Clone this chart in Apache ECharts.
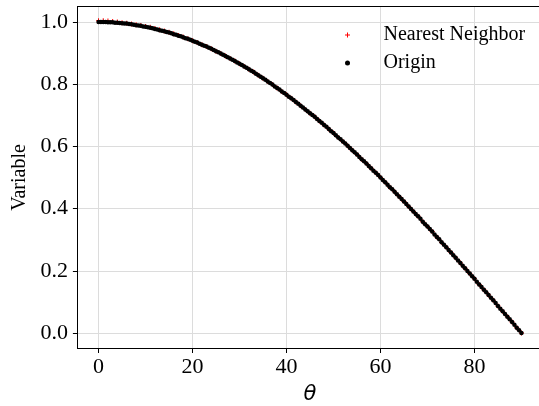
<!DOCTYPE html>
<html>
<head>
<meta charset="utf-8">
<script src="https://cdn.jsdelivr.net/npm/echarts@6/dist/echarts.min.js"></script>
<style>html,body{margin:0;padding:0;background:#fff}#c{width:539px;height:406px}</style>
</head>
<body>
<div id="c"></div>
<script>
var thetaOrigin = [0,0.5,1,1.5,2,2.5,3,3.5,4,4.5,5,5.5,6,6.5,7,7.5,8,8.5,9,9.5,10,10.5,11,11.5,12,12.5,13,13.5,14,14.5,15,15.5,16,16.5,17,17.5,18,18.5,19,19.5,20,20.5,21,21.5,22,22.5,23,23.5,24,24.5,25,25.5,26,26.5,27,27.5,28,28.5,29,29.5,30,30.5,31,31.5,32,32.5,33,33.5,34,34.5,35,35.5,36,36.5,37,37.5,38,38.5,39,39.5,40,40.5,41,41.5,42,42.5,43,43.5,44,44.5,45,45.5,46,46.5,47,47.5,48,48.5,49,49.5,50,50.5,51,51.5,52,52.5,53,53.5,54,54.5,55,55.5,56,56.5,57,57.5,58,58.5,59,59.5,60,60.5,61,61.5,62,62.5,63,63.5,64,64.5,65,65.5,66,66.5,67,67.5,68,68.5,69,69.5,70,70.5,71,71.5,72,72.5,73,73.5,74,74.5,75,75.5,76,76.5,77,77.5,78,78.5,79,79.5,80,80.5,81,81.5,82,82.5,83,83.5,84,84.5,85,85.5,86,86.5,87,87.5,88,88.5,89,89.5,90];
var originValues = [1.000,1.000,1.000,1.000,0.999,0.999,0.999,0.998,0.998,0.997,0.996,0.995,0.995,0.994,0.993,0.991,0.990,0.989,0.988,0.986,0.985,0.983,0.982,0.980,0.978,0.976,0.974,0.972,0.970,0.968,0.966,0.964,0.961,0.959,0.956,0.954,0.951,0.948,0.946,0.943,0.940,0.937,0.934,0.930,0.927,0.924,0.921,0.917,0.914,0.910,0.906,0.903,0.899,0.895,0.891,0.887,0.883,0.879,0.875,0.870,0.866,0.862,0.857,0.853,0.848,0.843,0.839,0.834,0.829,0.824,0.819,0.814,0.809,0.804,0.799,0.793,0.788,0.783,0.777,0.772,0.766,0.760,0.755,0.749,0.743,0.737,0.731,0.725,0.719,0.713,0.707,0.701,0.695,0.688,0.682,0.676,0.669,0.663,0.656,0.649,0.643,0.636,0.629,0.623,0.616,0.609,0.602,0.595,0.588,0.581,0.574,0.566,0.559,0.552,0.545,0.537,0.530,0.522,0.515,0.508,0.500,0.492,0.485,0.477,0.469,0.462,0.454,0.446,0.438,0.431,0.423,0.415,0.407,0.399,0.391,0.383,0.375,0.367,0.358,0.350,0.342,0.334,0.326,0.317,0.309,0.301,0.292,0.284,0.276,0.267,0.259,0.250,0.242,0.233,0.225,0.216,0.208,0.199,0.191,0.182,0.174,0.165,0.156,0.148,0.139,0.131,0.122,0.113,0.105,0.096,0.087,0.078,0.070,0.061,0.052,0.044,0.035,0.026,0.017,0.009,0.000];
var thetaNN = [0,1,2,3,4,5,6,7,8,9,10,11,12,13,14,15,16,17,18,19,20,21,22,23,24,25,26,27,28,29,30,31,32,33,34,35,36,37,38,39,40,41,42,43,44,45,46,47,48,49,50,51,52,53,54,55,56,57,58,59,60,61,62,63,64,65,66,67,68,69,70,71,72,73,74,75,76,77,78,79,80,81,82,83,84,85,86,87,88,89,90];
var nnValues = [1.004,1.004,1.003,1.002,1.000,0.998,0.996,0.994,0.991,0.989,0.986,0.983,0.979,0.975,0.971,0.967,0.962,0.957,0.952,0.946,0.940,0.934,0.927,0.921,0.914,0.906,0.899,0.891,0.883,0.875,0.866,0.857,0.848,0.839,0.829,0.819,0.809,0.799,0.788,0.777,0.766,0.755,0.743,0.731,0.719,0.707,0.695,0.682,0.669,0.656,0.643,0.629,0.616,0.602,0.588,0.574,0.559,0.545,0.530,0.515,0.500,0.485,0.469,0.454,0.438,0.423,0.407,0.391,0.375,0.358,0.342,0.326,0.309,0.292,0.276,0.259,0.242,0.225,0.208,0.191,0.174,0.156,0.139,0.122,0.105,0.087,0.070,0.052,0.035,0.017,0.000];
var xTicks = [0,20,40,60,80];
var yTicks = [0.0,0.2,0.4,0.6,0.8,1.0];
var seriesNames = ['Nearest Neighbor','Origin'];

var FONT = 'Liberation Serif, Times New Roman, serif';
var PLUS = 'path://M4,0h2v4h4v2h-4v4h-2v-4h-4v-2h4z';
function zip(a,b){return a.map(function(v,i){return [v,b[i]];});}

var chart = echarts.init(document.getElementById('c'), null, {renderer:'canvas'});
chart.setOption({
  animation:false,
  backgroundColor:'#fff',
  grid:{left:77.4, top:6.5, width:465.2, height:342, containLabel:false, outerBoundsMode:'none'},
  legend:{
    orient:'vertical', left:340, top:20, itemGap:8,
    itemWidth:62, itemHeight:5,
    textStyle:{fontFamily:FONT, fontSize:20, color:'#000', lineHeight:20},
    data:[{name:seriesNames[0], icon:PLUS},{name:seriesNames[1], icon:'circle'}]
  },
  xAxis:[{
    type:'value', min:-4.5, max:94.5,
    name:'θ', nameLocation:'middle', nameGap:36,
    nameTextStyle:{fontFamily:'DejaVu Sans', fontStyle:'italic', fontSize:21, color:'#000'},
    axisLine:{show:true, onZero:false, lineStyle:{color:'#000', width:1}},
    axisTick:{show:true, length:4.5, customValues:xTicks, lineStyle:{color:'#000'}},
    axisLabel:{customValues:xTicks, fontFamily:FONT, fontSize:22, color:'#000', margin:8},
    splitLine:{show:true, lineStyle:{color:'#dcdcdc', width:1}}
  },{
    type:'value', min:-4.5, max:94.5, position:'top',
    axisLine:{show:true, onZero:false, lineStyle:{color:'#000', width:1}},
    axisTick:{show:false}, axisLabel:{show:false}, splitLine:{show:false}
  }],
  yAxis:[{
    type:'value', min:-0.05, max:1.05,
    name:'Variable', nameLocation:'middle', nameGap:43, nameRotate:90,
    nameTextStyle:{fontFamily:FONT, fontSize:20, color:'#000'},
    axisLine:{show:true, onZero:false, lineStyle:{color:'#000', width:1}},
    axisTick:{show:true, length:4.5, customValues:yTicks, lineStyle:{color:'#000'}},
    axisLabel:{customValues:yTicks, fontFamily:FONT, fontSize:22, color:'#000', margin:9.5,
      formatter:function(v){return v.toFixed(1);}},
    splitLine:{show:true, lineStyle:{color:'#dcdcdc', width:1}}
  }],
  series:[{
    name:seriesNames[0], type:'scatter', symbol:PLUS, symbolSize:5,
    itemStyle:{color:'#ff0000', opacity:1}, data:zip(thetaNN, nnValues), z:2
  },{
    name:seriesNames[1], type:'scatter', symbol:'circle', symbolSize:4.5,
    itemStyle:{color:'#000', opacity:1}, data:zip(thetaOrigin, originValues), z:3
  }]
});
</script>
</body>
</html>
